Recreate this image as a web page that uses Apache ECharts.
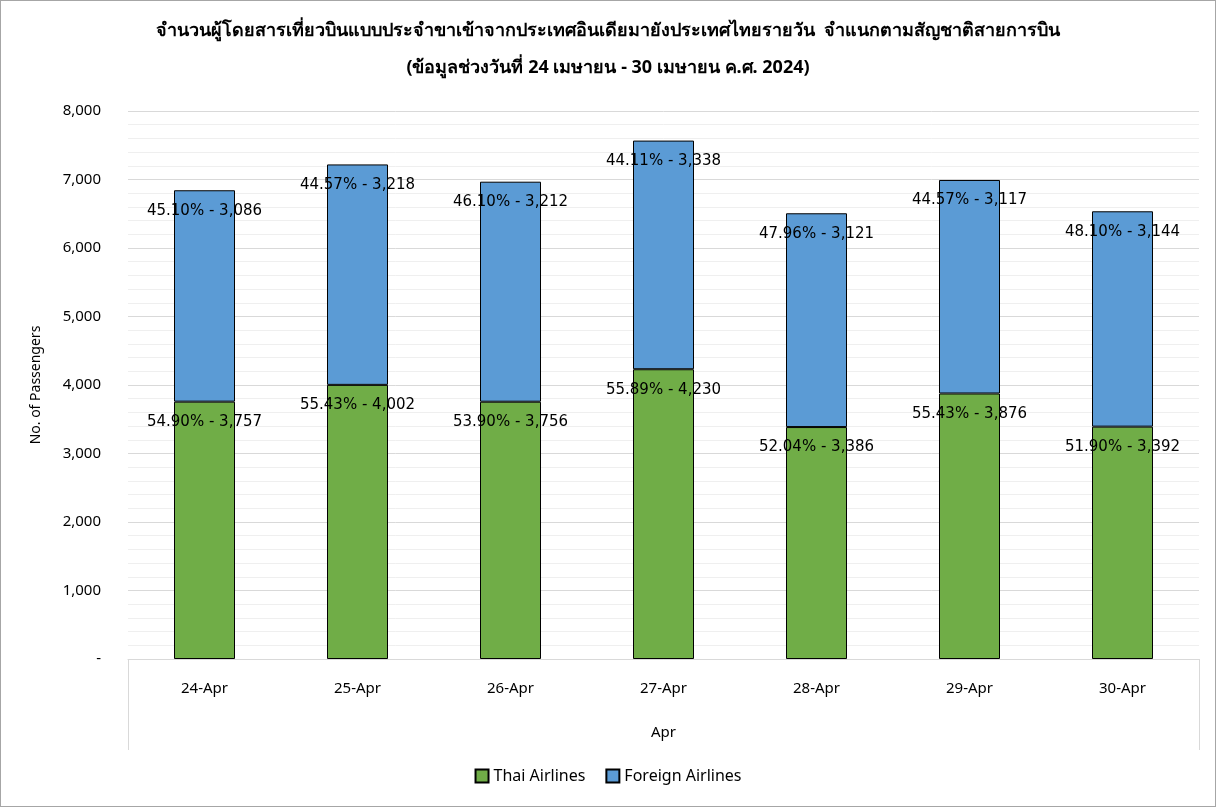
<!DOCTYPE html>
<html>
<head>
<meta charset="utf-8">
<script src="https://cdn.jsdelivr.net/npm/echarts@6/dist/echarts.min.js"></script>
<style>
  html, body { margin: 0; padding: 0; background: #fff; }
  #chart { width: 1214px; height: 805px; border: 1px solid #a6a6a6; }
</style>
</head>
<body>
<div id="chart"></div>
<script>
const days = ['24-Apr', '25-Apr', '26-Apr', '27-Apr', '28-Apr', '29-Apr', '30-Apr'];
const monthGroup = ['Apr'];
const thaiValues = [3757, 4002, 3756, 4230, 3386, 3876, 3392];
const foreignValues = [3086, 3218, 3212, 3338, 3121, 3117, 3144];
const thaiPct = ['54.90', '55.43', '53.90', '55.89', '52.04', '55.43', '51.90'];
const foreignPct = ['45.10', '44.57', '46.10', '44.11', '47.96', '44.57', '48.10'];

const font = '"Noto Sans", "DejaVu Sans", sans-serif';
const fmt = v => v.toLocaleString('en-US');

const chart = echarts.init(document.getElementById('chart'));

const labelFor = pcts => ({
  show: true,
  position: 'insideTop',
  distance: 13,
  color: '#000',
  fontSize: 15,
  fontFamily: '"DejaVu Sans", sans-serif',
  formatter: p => pcts[p.dataIndex] + '% - ' + fmt(p.value)
});

const option = {
  animation: false,
  title: {
    text: 'จำนวนผู้โดยสารเที่ยวบินแบบประจำขาเข้าจากประเทศอินเดียมายังประเทศไทยรายวัน  จำแนกตามสัญชาติสายการบิน\n(ข้อมูลช่วงวันที่ 24 เมษายน - 30 เมษายน ค.ศ. 2024)',
    left: 'center',
    top: 6,
    textStyle: { fontSize: 18, fontWeight: 'bold', color: '#000', fontFamily: font, lineHeight: 37 }
  },
  legend: {
    bottom: 17,
    left: 'center',
    icon: 'rect',
    itemWidth: 13,
    itemHeight: 13,
    itemGap: 20,
    textStyle: { fontSize: 16, color: '#000', fontFamily: font },
    data: ['Thai Airlines', 'Foreign Airlines']
  },
  grid: { left: 127, right: 16, top: 110, bottom: 147 },
  xAxis: [{
    type: 'category',
    data: days,
    axisLine: { lineStyle: { color: '#d9d9d9', width: 1 } },
    axisTick: { show: false },
    axisLabel: { color: '#000', fontSize: 15, margin: 22, fontFamily: font }
  }, {
    type: 'category',
    data: monthGroup,
    position: 'bottom',
    axisLine: { show: false },
    axisTick: { show: true, length: 91, lineStyle: { color: '#d9d9d9' } },
    axisLabel: { color: '#000', fontSize: 15, margin: 66, fontFamily: font }
  }],
  yAxis: {
    type: 'value',
    min: 0,
    max: 8000,
    interval: 1000,
    name: 'No. of Passengers',
    nameLocation: 'middle',
    nameGap: 85,
    nameTextStyle: { color: '#000', fontSize: 14, fontFamily: font },
    axisLine: { show: false },
    axisTick: { show: false },
    axisLabel: {
      color: '#000', fontSize: 15, margin: 27, fontFamily: font,
      formatter: v => v === 0 ? '-' : fmt(v)
    },
    splitLine: { lineStyle: { color: '#d9d9d9', width: 1 } },
    minorTick: { show: false, splitNumber: 5 },
    minorSplitLine: { show: true, lineStyle: { color: '#efefef', width: 1 } }
  },
  series: [{
    name: 'Thai Airlines',
    type: 'bar',
    stack: 'total',
    barWidth: 61,
    data: thaiValues,
    itemStyle: { color: '#70ad47', borderColor: '#000', borderWidth: 1 },
    label: labelFor(thaiPct)
  }, {
    name: 'Foreign Airlines',
    type: 'bar',
    stack: 'total',
    barWidth: 61,
    data: foreignValues,
    itemStyle: { color: '#5b9bd5', borderColor: '#000', borderWidth: 1 },
    label: labelFor(foreignPct)
  }]
};

chart.setOption(option);
</script>
</body>
</html>
